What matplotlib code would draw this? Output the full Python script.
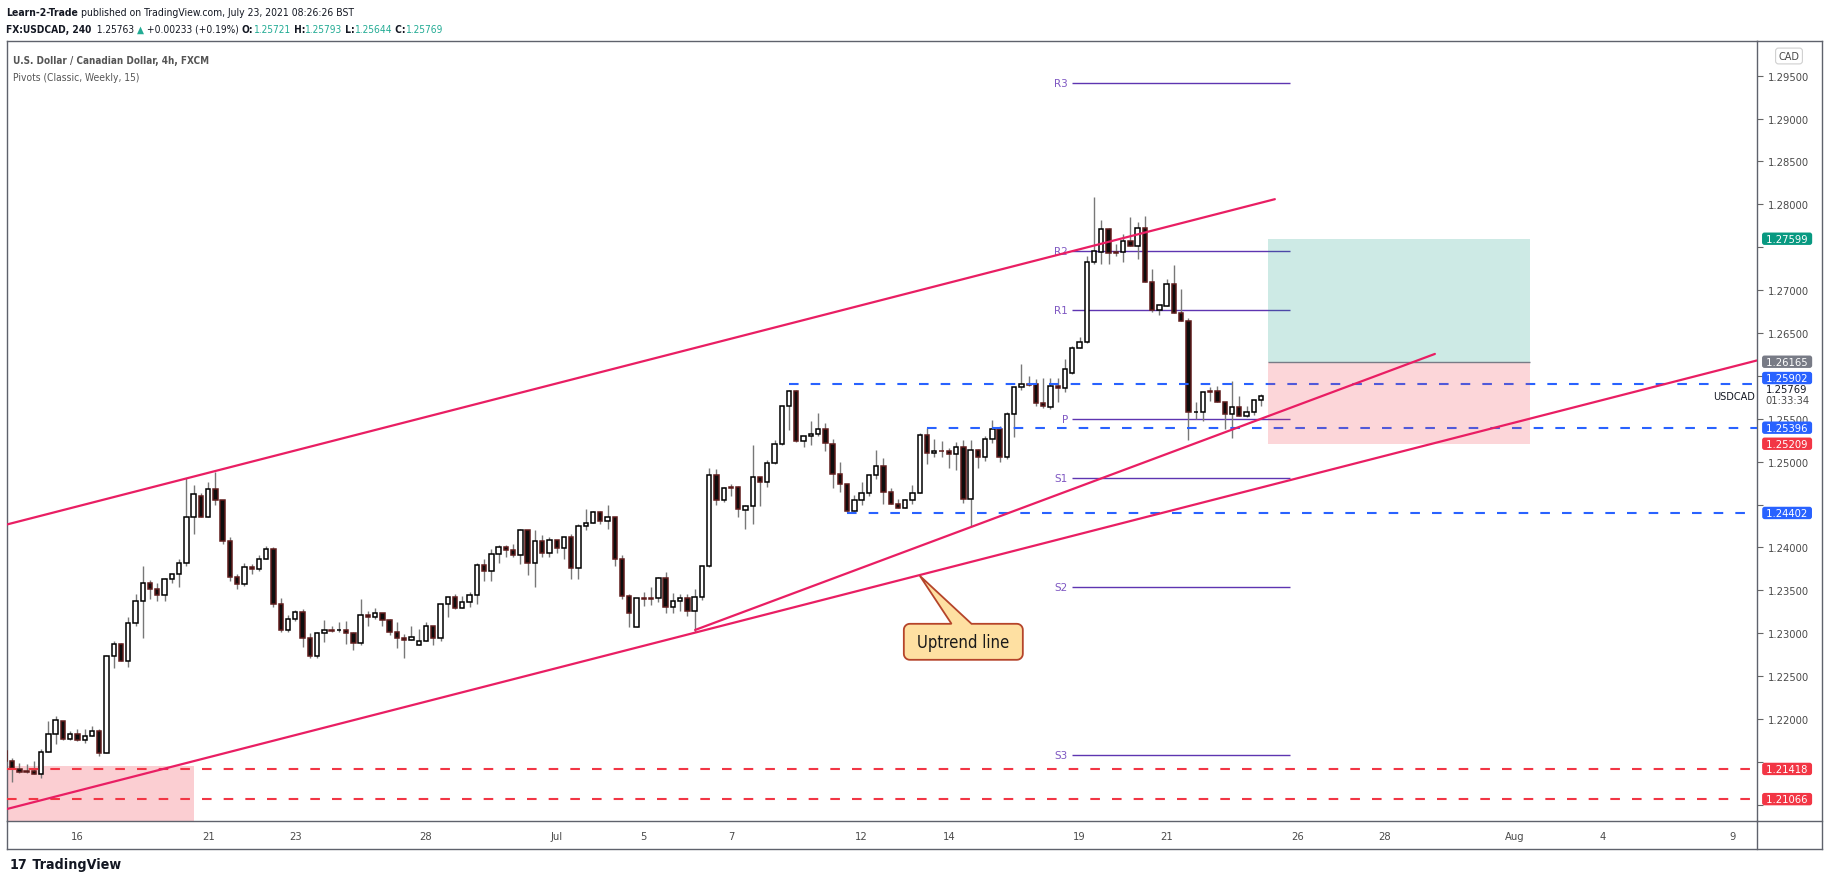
import numpy as np
import matplotlib
matplotlib.use("Agg")
import matplotlib.pyplot as plt
import matplotlib.transforms as mtransforms
from matplotlib import font_manager
from matplotlib.patches import Rectangle, Polygon
from matplotlib.lines import Line2D
from matplotlib.ticker import FuncFormatter

# USDCAD 4h candles, bar index counted from Mon 14 Jun 2021 (6 bars per trading day)
first_bar = 2
opens = [
    1.2163, 1.2151, 1.2142, 1.2139,
    1.2139, 1.2136, 1.2162, 1.2182, 1.2198, 1.2177,
    1.2183, 1.2175, 1.2180, 1.2186, 1.2160, 1.2274,
    1.2288, 1.2268, 1.2312, 1.2338, 1.2359, 1.2351,
    1.2345, 1.2363, 1.2369, 1.2382, 1.2436, 1.2460,
    1.2436, 1.2468, 1.2455, 1.2408, 1.2365, 1.2357,
    1.2377, 1.2375, 1.2387, 1.2398, 1.2334, 1.2304,
    1.2317, 1.2325, 1.2294, 1.2274, 1.2300, 1.2304,
    1.2304, 1.2304, 1.2300, 1.2289, 1.2321, 1.2319,
    1.2323, 1.2315, 1.2302, 1.2295, 1.2292, 1.2286,
    1.2291, 1.2309, 1.2295, 1.2334, 1.2342, 1.2329,
    1.2336, 1.2344, 1.2379, 1.2372, 1.2392, 1.2400,
    1.2397, 1.2391, 1.2420, 1.2382, 1.2407, 1.2394,
    1.2409, 1.2399, 1.2412, 1.2376, 1.2425, 1.2428,
    1.2441, 1.2431, 1.2435, 1.2386, 1.2343, 1.2307,
    1.2341, 1.2341, 1.2341, 1.2364, 1.2331, 1.2337,
    1.2341, 1.2326, 1.2342, 1.2378, 1.2485, 1.2455,
    1.2470, 1.2470, 1.2444, 1.2448, 1.2482, 1.2476,
    1.2499, 1.2521, 1.2565, 1.2582, 1.2524, 1.2530,
    1.2532, 1.2538, 1.2521, 1.2486, 1.2474, 1.2442,
    1.2455, 1.2464, 1.2485, 1.2495, 1.2465, 1.2451,
    1.2446, 1.2455, 1.2463, 1.2531, 1.2510, 1.2513,
    1.2513, 1.2509, 1.2517, 1.2456, 1.2514, 1.2506,
    1.2527, 1.2538, 1.2506, 1.2556, 1.2587, 1.2590,
    1.2590, 1.2568, 1.2564, 1.2588, 1.2586, 1.2603,
    1.2633, 1.2640, 1.2733, 1.2745, 1.2771, 1.2744,
    1.2744, 1.2757, 1.2752, 1.2772, 1.2709, 1.2677,
    1.2682, 1.2707, 1.2673, 1.2664, 1.2558, 1.2558,
    1.2582, 1.2582, 1.2569, 1.2556, 1.2564, 1.2553,
    1.2558, 1.25721,
]
highs = [
    1.2164, 1.2154, 1.2149, 1.2147,
    1.2151, 1.2165, 1.2198, 1.2204, 1.2198, 1.2186,
    1.2188, 1.2188, 1.2192, 1.2188, 1.2275, 1.2291,
    1.2289, 1.2319, 1.2346, 1.2378, 1.2362, 1.2358,
    1.2364, 1.2369, 1.2387, 1.2481, 1.2473, 1.2464,
    1.2476, 1.2488, 1.2455, 1.2412, 1.2369, 1.2382,
    1.2381, 1.2391, 1.2402, 1.2401, 1.2341, 1.2321,
    1.2327, 1.2328, 1.2300, 1.2302, 1.2315, 1.2308,
    1.2313, 1.2314, 1.2301, 1.2340, 1.2326, 1.2329,
    1.2323, 1.2317, 1.2313, 1.2299, 1.2309, 1.2305,
    1.2313, 1.2309, 1.2334, 1.2342, 1.2346, 1.2343,
    1.2348, 1.2382, 1.2387, 1.2398, 1.2403, 1.2403,
    1.2404, 1.2421, 1.2420, 1.2420, 1.2415, 1.2412,
    1.2409, 1.2412, 1.2416, 1.2427, 1.2445, 1.2443,
    1.2443, 1.2450, 1.2436, 1.2391, 1.2346, 1.2341,
    1.2348, 1.2354, 1.2366, 1.2371, 1.2347, 1.2346,
    1.2346, 1.2352, 1.2378, 1.2493, 1.2491, 1.2471,
    1.2474, 1.2472, 1.2450, 1.2519, 1.2482, 1.2502,
    1.2525, 1.2565, 1.2583, 1.2583, 1.2530, 1.2547,
    1.2557, 1.2545, 1.2526, 1.2500, 1.2474, 1.2461,
    1.2476, 1.2485, 1.2514, 1.2504, 1.2469, 1.2457,
    1.2456, 1.2473, 1.2533, 1.2539, 1.2526, 1.2524,
    1.2516, 1.2523, 1.2525, 1.2525, 1.2515, 1.2530,
    1.2549, 1.2541, 1.2558, 1.2587, 1.2614, 1.2600,
    1.2596, 1.2598, 1.2598, 1.2598, 1.2620, 1.2635,
    1.2645, 1.2740, 1.2808, 1.2782, 1.2772, 1.2754,
    1.2765, 1.2785, 1.2779, 1.2786, 1.2725, 1.2683,
    1.2713, 1.2729, 1.2701, 1.2667, 1.2569, 1.2581,
    1.2587, 1.2588, 1.2569, 1.2594, 1.2577, 1.2565,
    1.2572, 1.25793,
]
lows = [
    1.2150, 1.2127, 1.2137, 1.2137,
    1.2136, 1.2131, 1.2162, 1.2171, 1.2176, 1.2175,
    1.2174, 1.2172, 1.2180, 1.2157, 1.2160, 1.2260,
    1.2268, 1.2261, 1.2309, 1.2295, 1.2340, 1.2338,
    1.2338, 1.2358, 1.2354, 1.2378, 1.2416, 1.2435,
    1.2435, 1.2449, 1.2404, 1.2361, 1.2351, 1.2355,
    1.2369, 1.2373, 1.2387, 1.2330, 1.2301, 1.2301,
    1.2314, 1.2284, 1.2271, 1.2271, 1.2290, 1.2301,
    1.2301, 1.2288, 1.2280, 1.2286, 1.2309, 1.2317,
    1.2309, 1.2298, 1.2283, 1.2271, 1.2292, 1.2286,
    1.2291, 1.2286, 1.2291, 1.2319, 1.2328, 1.2329,
    1.2330, 1.2334, 1.2361, 1.2361, 1.2382, 1.2389,
    1.2389, 1.2381, 1.2368, 1.2354, 1.2389, 1.2389,
    1.2394, 1.2386, 1.2363, 1.2363, 1.2420, 1.2428,
    1.2427, 1.2422, 1.2378, 1.2340, 1.2307, 1.2307,
    1.2332, 1.2333, 1.2336, 1.2323, 1.2324, 1.2326,
    1.2320, 1.2302, 1.2339, 1.2377, 1.2450, 1.2453,
    1.2460, 1.2435, 1.2422, 1.2427, 1.2448, 1.2470,
    1.2497, 1.2519, 1.2537, 1.2523, 1.2517, 1.2519,
    1.2530, 1.2513, 1.2469, 1.2465, 1.2441, 1.2442,
    1.2450, 1.2460, 1.2480, 1.2451, 1.2451, 1.2446,
    1.2446, 1.2451, 1.2463, 1.2497, 1.2506, 1.2505,
    1.2493, 1.2490, 1.2452, 1.2425, 1.2493, 1.2501,
    1.2522, 1.2500, 1.2503, 1.2529, 1.2584, 1.2588,
    1.2565, 1.2563, 1.2561, 1.2570, 1.2581, 1.2602,
    1.2633, 1.2638, 1.2731, 1.2730, 1.2731, 1.2740,
    1.2733, 1.2752, 1.2736, 1.2709, 1.2674, 1.2671,
    1.2682, 1.2673, 1.2664, 1.2525, 1.2550, 1.2547,
    1.2571, 1.2569, 1.2538, 1.2528, 1.2553, 1.2552,
    1.2554, 1.25644,
]
closes = [
    1.2151, 1.2143, 1.2138, 1.2138,
    1.2136, 1.2162, 1.2182, 1.2199, 1.2177, 1.2183,
    1.2175, 1.2180, 1.2186, 1.2160, 1.2274, 1.2288,
    1.2268, 1.2312, 1.2338, 1.2359, 1.2351, 1.2345,
    1.2363, 1.2369, 1.2382, 1.2436, 1.2462, 1.2436,
    1.2468, 1.2455, 1.2408, 1.2365, 1.2357, 1.2377,
    1.2375, 1.2387, 1.2398, 1.2334, 1.2304, 1.2317,
    1.2325, 1.2294, 1.2274, 1.2300, 1.2304, 1.2303,
    1.2304, 1.2300, 1.2289, 1.2321, 1.2319, 1.2323,
    1.2315, 1.2302, 1.2295, 1.2292, 1.2296, 1.2291,
    1.2309, 1.2295, 1.2334, 1.2342, 1.2329, 1.2336,
    1.2344, 1.2379, 1.2372, 1.2392, 1.2400, 1.2397,
    1.2391, 1.2420, 1.2382, 1.2407, 1.2394, 1.2409,
    1.2399, 1.2412, 1.2376, 1.2425, 1.2428, 1.2441,
    1.2431, 1.2435, 1.2386, 1.2343, 1.2323, 1.2341,
    1.2340, 1.2340, 1.2364, 1.2331, 1.2337, 1.2341,
    1.2326, 1.2342, 1.2378, 1.2485, 1.2455, 1.2469,
    1.2469, 1.2445, 1.2448, 1.2482, 1.2476, 1.2499,
    1.2521, 1.2565, 1.2582, 1.2524, 1.2530, 1.2532,
    1.2538, 1.2522, 1.2486, 1.2474, 1.2442, 1.2455,
    1.2464, 1.2485, 1.2495, 1.2465, 1.2451, 1.2446,
    1.2455, 1.2463, 1.2531, 1.2510, 1.2513, 1.2512,
    1.2509, 1.2517, 1.2456, 1.2514, 1.2506, 1.2527,
    1.2538, 1.2506, 1.2556, 1.2587, 1.2590, 1.2589,
    1.2568, 1.2565, 1.2588, 1.2586, 1.2608, 1.2633,
    1.2640, 1.2733, 1.2746, 1.2771, 1.2743, 1.2743,
    1.2757, 1.2752, 1.2772, 1.2709, 1.2677, 1.2683,
    1.2707, 1.2673, 1.2664, 1.2558, 1.2558, 1.2581,
    1.2581, 1.2569, 1.2556, 1.2564, 1.2553, 1.2558,
    1.2572, 1.25769,
]

day_ticks = [12, 30, 42, 60, 78, 90, 102, 120, 132, 150, 162, 180, 192, 210, 222, 240]
day_labels = ['16', '21', '23', '28', 'Jul', '5', '7', '12', '14', '19', '21',
              '26', '28', 'Aug', '4', '9']

price_ticks = np.arange(1.210, 1.2951, 0.005)
hidden_ticks = [1.210, 1.215, 1.245, 1.260, 1.275]   # covered by the coloured tags

pivot_names = ['R3', 'R2', 'R1', 'P', 'S1', 'S2', 'S3']
pivot_values = [1.2942, 1.2746, 1.2677, 1.2550, 1.2481, 1.2354, 1.2158]
pivot_start, pivot_end = 149, 179

blue_levels = [1.25902, 1.25396, 1.24402]
blue_starts = [110, 129, 118]
red_levels = [1.21418, 1.21066]
zone_top, zone_end = 1.2145, 28

target_price, entry_price, stop_price = 1.27599, 1.26165, 1.25209
position_start, position_end = 176, 212

channel_upper = ([2.3, 176.9], [1.24268, 1.2806])
channel_lower = ([2.3, 243.3], [1.20951, 1.2618])
uptrend = ([97.06, 198.94], [1.23038, 1.26256])
callout_center = (134.0, 1.2290)

last_price = 1.25769

# ---------------------------------------------------------------
W, H = 1828, 887
fig = plt.figure(figsize=(W / 100, H / 100), dpi=100)
fig.patch.set_facecolor('white')


def fx(px):
    return px / W


def fy(py):
    return 1 - py / H


ttf = font_manager.fontManager.ttflist
if any(f.name == 'Liberation Sans Narrow' for f in ttf):
    hfont, hstretch = ['Liberation Sans Narrow', 'DejaVu Sans'], 'normal'
elif any(f.name == 'DejaVu Sans' and f.stretch == 'condensed' for f in ttf):
    hfont, hstretch = ['DejaVu Sans'], 'condensed'
else:
    hfont, hstretch = ['Roboto', 'DejaVu Sans'], 'normal'

ax = fig.add_axes([fx(7), fy(822), fx(1757) - fx(7), fy(42) - fy(822)])
ax.set_xlim(2.3, 243.3)
ax.set_ylim(1.20811, 1.29904)

frame = '#5f626c'
for s in ax.spines.values():
    s.set_color(frame)
    s.set_linewidth(1)

# candles
x = np.arange(first_bar, first_bar + len(closes))
o, h, l, c = (np.array(v) for v in (opens, highs, lows, closes))
up = c >= o
ax.vlines(x, l, h, color='#787878', lw=1, zorder=3)
ax.bar(x[up], (c - o)[up], bottom=o[up], width=0.6, color='white',
       edgecolor='black', lw=1.1, zorder=4)
ax.bar(x[~up], (o - c)[~up], bottom=c[~up], width=0.6, color='#0d0d0d',
       edgecolor='#5e1b1b', lw=1.1, zorder=4)

# zones and levels
ax.add_patch(Rectangle((2.3, 1.20), zone_end - 2.3, zone_top - 1.20,
                       fc='#f23645', alpha=0.24, ec='none', zorder=1))
ax.hlines(red_levels, 2.3, 243.3, colors='#f23645', lw=1.5,
          linestyles=(0, (4.6, 5.8)), zorder=5)
for lev, start in zip(blue_levels, blue_starts):
    ax.hlines(lev, start, 243.3, colors='#2962ff', lw=1.5,
              linestyles=(0, (4.6, 5.8)), zorder=5)

ax.hlines(pivot_values, pivot_start, pivot_end, colors='#5e35b1', lw=1, zorder=2)
for name, v in zip(pivot_names, pivot_values):
    ax.annotate(name, (pivot_start, v), xytext=(-3, 0), textcoords='offset points',
                ha='right', va='center', color='#7e57c2', fontsize=7.5, zorder=6)

# long position tool
ax.add_patch(Rectangle((position_start, entry_price), position_end - position_start,
                       target_price - entry_price, fc='#089981', alpha=0.2, ec='none', zorder=5))
ax.add_patch(Rectangle((position_start, stop_price), position_end - position_start,
                       entry_price - stop_price, fc='#f23645', alpha=0.2, ec='none', zorder=5))
ax.hlines(entry_price, position_start, position_end, colors='#787b86', lw=1, zorder=5)

# trend lines
for xs, ys in (channel_upper, channel_lower, uptrend):
    ax.plot(xs, ys, color='#e91e63', lw=1.6, solid_capstyle='round', zorder=7)

# callout bubble pointing at the lower channel line
trans = fig.dpi_scale_trans + mtransforms.ScaledTranslation(*callout_center, ax.transData)
hw, hh, r = 0.595, 0.18, 0.06
pts = []
for cx, cy, a0 in ((hw - r, -hh + r, -90), (hw - r, hh - r, 0),
                   (-hw + r, hh - r, 90), (-hw + r, -hh + r, 180)):
    for a in np.linspace(a0, a0 + 90, 8):
        pts.append((cx + r * np.cos(np.radians(a)), cy + r * np.sin(np.radians(a))))
    if a0 == 0:
        pts += [(0.082, hh), (-0.435, 0.66), (-0.118, hh)]
ax.add_patch(Polygon(pts, closed=True, transform=trans, fc='#fee0a2', ec='#b5442a',
                     lw=1.3, zorder=8))
ax.text(*callout_center, 'Uptrend line', ha='center', va='center', fontsize=12,
        color='#1a1a1a', family=hfont, fontstretch=hstretch, zorder=9)

ax.text(pivot_end + 64, last_price, 'USDCAD', ha='right', va='center',
        fontsize=7, color='#131722', zorder=9)

# axes ticks
ax.set_xticks(day_ticks)
ax.set_xticklabels(day_labels)
ax.tick_params(axis='x', length=0, pad=7, labelsize=7.2, labelcolor='#4a4a4a')
ax.yaxis.tick_right()
ax.set_yticks(price_ticks)
ax.yaxis.set_major_formatter(FuncFormatter(
    lambda v, pos: '' if min(abs(v - t) for t in hidden_ticks) < 1e-6 else '%.5f' % v))
ax.tick_params(axis='y', length=4, width=0.8, color='#666666', pad=4,
               labelsize=7.2, labelcolor='#4a4a4a')

ylab = mtransforms.blended_transform_factory(ax.transAxes, ax.transData)
axis_tags = [(target_price, '#089981', 0), (entry_price, '#787b86', 0),
             (blue_levels[0], '#2962ff', 4.5), (blue_levels[1], '#2962ff', 0),
             (stop_price, '#f23645', 0), (blue_levels[2], '#2962ff', 0),
             (red_levels[0], '#f23645', 0), (red_levels[1], '#f23645', 0)]
for price, col, dy in axis_tags:
    ax.annotate(' %.5f ' % price, (1.0172, price), xycoords=ylab, xytext=(0, dy),
                textcoords='offset points', ha='center', va='center', fontsize=7.2,
                color='white', annotation_clip=False, zorder=20,
                bbox=dict(boxstyle='round,pad=0.12,rounding_size=0.25', fc=col, ec='none'))
ax.annotate('%.5f' % last_price, (1.0172, last_price), xycoords=ylab, xytext=(0, 4.6),
            textcoords='offset points', ha='center', va='center', fontsize=7.2,
            color='#131722', annotation_clip=False, zorder=21)
ax.annotate('01:33:34', (1.0172, last_price), xycoords=ylab, xytext=(0, -3.4),
            textcoords='offset points', ha='center', va='center', fontsize=7.2,
            color='#4a4a4a', annotation_clip=False, zorder=21)
fig.text(fx(1789), fy(57), 'CAD', ha='center', va='center', fontsize=7, color='#4a4a4a',
         bbox=dict(boxstyle='round,pad=0.3,rounding_size=0.3', fc='white', ec='#d0d0d0', lw=0.8))

# outer frame pieces
for (x0, y0, x1, y1) in [(1757, 42, 1822, 42), (1822, 42, 1822, 850), (7, 850, 1822, 850),
                         (7, 822, 7, 850), (1757, 822, 1822, 822), (1757, 822, 1757, 850)]:
    fig.add_artist(Line2D([fx(x0), fx(x1)], [fy(y0), fy(y1)], color=frame, lw=1))

# header texts
renderer = fig.canvas.get_renderer()


def run_width(s, **kw):
    t = fig.text(0, 0, '|' + s + '|', **kw)
    w = t.get_window_extent(renderer).width
    t.set_text('||')
    w -= t.get_window_extent(renderer).width
    t.remove()
    return w


def draw_runs(x0, y0, runs, target, **kw):
    kw.setdefault('family', hfont)
    kw.setdefault('fontstretch', hstretch)
    total = sum(run_width(s, fontweight=wt, **kw) for s, wt, _ in runs)
    kw['fontsize'] = kw['fontsize'] * target / total
    xp = x0
    for s, wt, col in runs:
        fig.text(fx(xp), fy(y0), s, fontweight=wt, color=col, ha='left', va='center', **kw)
        xp += run_width(s, fontweight=wt, **kw)


teal = '#22ab94'
ink = '#131722'
draw_runs(6, 13, [('Learn-2-Trade', 'bold', ink),
                  (' published on TradingView.com, July 23, 2021 08:26:26 BST', 'normal', ink)],
          350, fontsize=10)
draw_runs(6, 30, [('FX:USDCAD, 240', 'bold', ink), ('  1.25763 ', 'normal', ink),
                  ('\u25b2', 'normal', teal), (' +0.00233 (+0.19%) ', 'normal', ink),
                  ('O:', 'bold', ink), ('1.25721', 'normal', teal),
                  (' H:', 'bold', ink), ('1.25793', 'normal', teal),
                  (' L:', 'bold', ink), ('1.25644', 'normal', teal),
                  (' C:', 'bold', ink), ('1.25769', 'normal', teal)],
          440, fontsize=10)
draw_runs(13, 61, [('U.S. Dollar / Canadian Dollar, 4h, FXCM', 'bold', '#555555')],
          194, fontsize=10)
draw_runs(13, 78, [('Pivots (Classic, Weekly, 15)', 'normal', '#555555')],
          127, fontsize=10)
draw_runs(10, 865, [('17', 'heavy', ink), (' TradingView', 'bold', ink)],
          110, fontsize=11)

fig.savefig('out.png', dpi=100, facecolor='white')
